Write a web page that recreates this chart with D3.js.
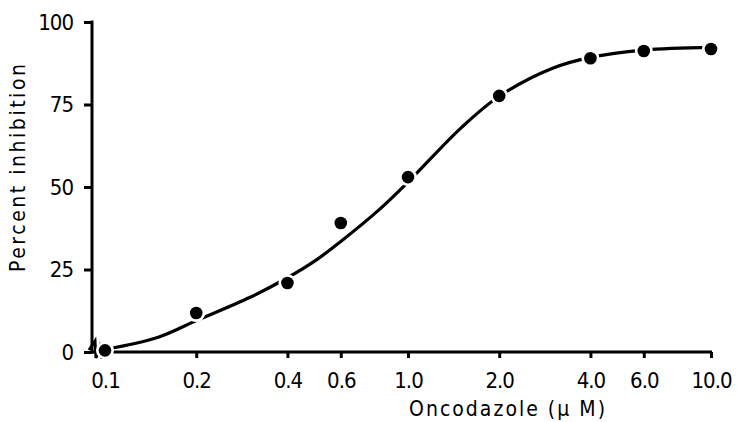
<!DOCTYPE html>
<html>
<head>
<meta charset="utf-8">
<script src="https://cdn.jsdelivr.net/npm/d3@7"></script>
<style>
  body { margin: 0; background: #fff; }
  text { font-family: "DejaVu Sans Condensed", "DejaVu Sans", sans-serif; fill: #000; }
</style>
</head>
<body>
<div id="chart"></div>
<script>
// measured points
let doses = [0.1, 0.2, 0.4, 0.6, 1.0, 2.0, 4.0, 6.0, 10.0];
let inhibition = [0.5, 11.8, 20.9, 39.1, 53, 77.6, 89, 91.2, 91.8];

// fitted curve
let curveDoses = [0.1, 0.15, 0.2, 0.3, 0.4, 0.5, 0.6, 0.8, 1.0, 1.5, 2.0, 3.0, 4.0, 6.0, 10.0];
let curveValues = [0.8, 4.5, 9.5, 16.5, 22.5, 28, 33.5, 43, 51.5, 68, 77.5, 86, 89.3, 91.5, 92.3];

let xTicks = [0.1, 0.2, 0.4, 0.6, 1.0, 2.0, 4.0, 6.0, 10.0];
let xTickLabels = ["0.1", "0.2", "0.4", "0.6", "1.0", "2.0", "4.0", "6.0", "10.0"];
let yTicks = [0, 25, 50, 75, 100];

let width = 737, height = 422;
let axisX = 92;

let svg = d3.select("#chart").append("svg")
    .attr("width", width)
    .attr("height", height);

let xScale = d3.scaleLog().domain([0.1, 10]).range([105, 711]);
let yScale = d3.scaleLinear().domain([0, 100]).range([352, 22]);

// x axis
let xAxis = d3.axisBottom(xScale)
    .tickValues(xTicks)
    .tickFormat((d, i) => xTickLabels[i])
    .tickSize(6)
    .tickPadding(14);
let gx = svg.append("g").attr("transform", "translate(0," + yScale(0) + ")").call(xAxis);
gx.select(".domain").remove();
gx.selectAll(".tick line").attr("stroke", "#000").attr("stroke-width", 3);
gx.selectAll("text").style("font-size", "22px").attr("letter-spacing", "-1px");
svg.append("line")
    .attr("x1", axisX).attr("x2", xScale(10) + 1)
    .attr("y1", yScale(0)).attr("y2", yScale(0))
    .attr("stroke", "#000").attr("stroke-width", 3);

// y axis
let yAxis = d3.axisLeft(yScale)
    .tickValues(yTicks)
    .tickSize(8)
    .tickPadding(11);
let gy = svg.append("g").attr("transform", "translate(" + axisX + ",0)").call(yAxis);
gy.select(".domain").remove();
gy.selectAll(".tick line").attr("stroke", "#000").attr("stroke-width", 3);
gy.selectAll("text").style("font-size", "22px").attr("letter-spacing", "-1px");
svg.append("line")
    .attr("x1", axisX).attr("x2", axisX)
    .attr("y1", yScale(100) - 1.5).attr("y2", yScale(0) + 1.5)
    .attr("stroke", "#000").attr("stroke-width", 3);

// axis break mark near origin
let bx = axisX, by = yScale(0);
svg.append("path")
    .attr("d", "M" + (bx - 3) + "," + (by - 2) + " L" + (bx + 3) + "," + (by - 11) +
        " L" + (bx + 4) + "," + (by + 6) + " L" + (bx + 9) + "," + (by - 9) +
        " L" + (bx + 10) + "," + (by + 7))
    .attr("fill", "none")
    .attr("stroke", "#000")
    .attr("stroke-width", 3);

// fitted curve
let line = d3.line()
    .x(d => xScale(d[0]))
    .y(d => yScale(d[1]))
    .curve(d3.curveCatmullRom.alpha(0.5));
svg.append("path")
    .datum(curveDoses.map((d, i) => [d, curveValues[i]]))
    .attr("d", line)
    .attr("fill", "none")
    .attr("stroke", "#000")
    .attr("stroke-width", 3.2);

// data points: white halo first, which makes the small gaps in the curve
let pts = doses.map((d, i) => [d, inhibition[i]]);
svg.append("g").selectAll("circle")
    .data(pts)
    .enter().append("circle")
    .attr("cx", d => xScale(d[0]))
    .attr("cy", d => yScale(d[1]))
    .attr("r", 9)
    .attr("fill", "#fff");
svg.append("g").selectAll("circle")
    .data(pts)
    .enter().append("circle")
    .attr("cx", d => xScale(d[0]))
    .attr("cy", d => yScale(d[1]))
    .attr("r", 6.3)
    .attr("fill", "#000");

// labels
svg.append("text")
    .attr("x", 507)
    .attr("y", 416)
    .attr("text-anchor", "middle")
    .attr("textLength", 196)
    .style("font-size", "21px")
    .text("Oncodazole (\u03bc M)");

svg.append("text")
    .attr("transform", "translate(25,168) rotate(-90)")
    .attr("text-anchor", "middle")
    .attr("textLength", 208)
    .style("font-size", "21px")
    .text("Percent inhibition");
</script>
</body>
</html>
